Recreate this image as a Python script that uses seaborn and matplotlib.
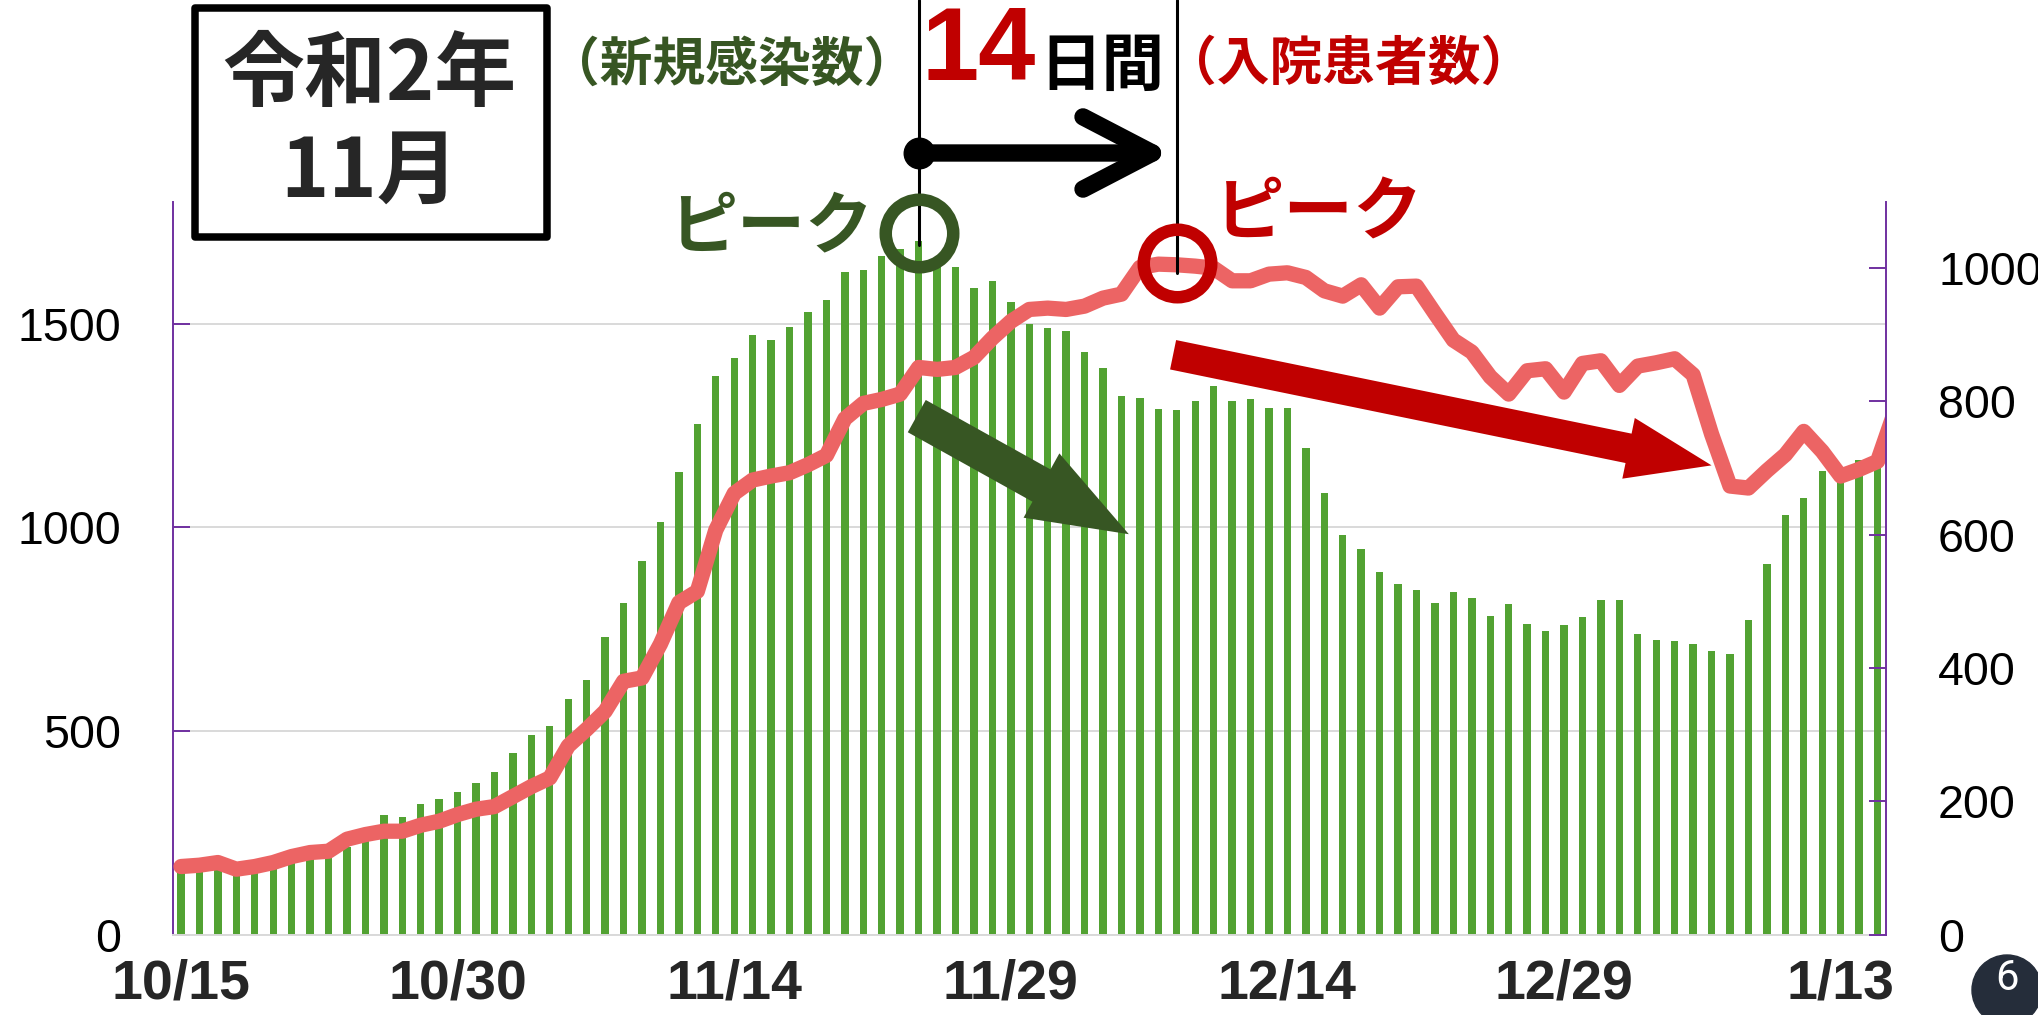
import numpy as np
import pandas as pd
import seaborn as sns
import matplotlib.pyplot as plt
from matplotlib import patches, transforms

# new infections per day (left axis), 10/15 .. 1/15
new_cases = [170, 176, 176, 166, 171, 179, 191, 199, 202, 215,
             260, 293, 289, 320, 333, 351, 372, 400, 446, 491,
             513, 578, 625, 731, 814, 917, 1012, 1136, 1253, 1372,
             1415, 1471, 1460, 1493, 1528, 1558, 1627, 1631, 1667, 1683,
             1702, 1645, 1639, 1587, 1605, 1553, 1499, 1489, 1481, 1431,
             1392, 1323, 1317, 1291, 1288, 1311, 1347, 1311, 1316, 1294,
             1294, 1195, 1084, 981, 946, 889, 860, 845, 815, 842,
             826, 783, 811, 763, 746, 759, 779, 822, 822, 739,
             722, 720, 713, 695, 689, 772, 910, 1030, 1073, 1138,
             1125, 1166, 1187]

# hospitalised patients (right axis), 10/15 .. 1/16
inpatients = [102, 104, 108, 98, 102, 108, 117, 123, 125, 143,
              150, 155, 155, 164, 170, 180, 188, 192, 207, 222,
              235, 283, 308, 335, 380, 385, 436, 498, 515, 607,
              662, 682, 688, 693, 705, 719, 774, 797, 803, 811,
              851, 848, 851, 866, 895, 920, 938, 940, 938, 943,
              955, 961, 1001, 1006, 1005, 1003, 1000, 981, 981, 991,
              993, 986, 966, 958, 975, 940, 972, 973, 932, 892,
              874, 837, 811, 846, 849, 814, 857, 861, 824, 853,
              858, 864, 840, 751, 673, 670, 696, 720, 755, 725,
              688, 698, 710, 790]

tick_days = [0, 15, 30, 45, 60, 75, 90]
tick_labels = ['10/15', '10/30', '11/14', '11/29', '12/14', '12/29', '1/13']

peak_case_day = 40   # 11/24
peak_hosp_day = 54   # 12/8

W, H = 2038, 1015


def fy(py):
    # image pixel row -> figure fraction
    return 1 - py / H


sns.set_style('white')
plt.rcParams['font.family'] = ['Liberation Sans', 'Noto Sans CJK JP', 'DejaVu Sans']
jp = ['Noto Sans CJK JP', 'DejaVu Sans']

fig = plt.figure(figsize=(W / 100, H / 100), dpi=100)
ax = fig.add_axes([173 / W, fy(934.5), (1886 - 173) / W, (934.5 - 201.5) / H])

cases_df = pd.DataFrame({'day': np.arange(len(new_cases)), 'cases': new_cases})
sns.barplot(data=cases_df, x='day', y='cases', color='#52a232', saturation=1,
            width=0.4, linewidth=0, ax=ax)

ax2 = ax.twinx()
hosp_df = pd.DataFrame({'day': np.arange(len(inpatients)), 'hosp': inpatients})
sns.lineplot(data=hosp_df, x='day', y='hosp', color='#ec6464', linewidth=11, ax=ax2)
ax2.lines[0].set_solid_capstyle('round')

ax.set_xlim(-0.434, 92.46)
ax.set_ylim(0, 1800)
ax.set_yticks([0, 500, 1000, 1500])
ax2.set_ylim(0, 1100)
ax2.set_yticks(range(0, 1001, 200))
ax.set_xticks(tick_days)
ax.set_xticklabels(tick_labels, fontsize=40, fontweight='bold')
for a in (ax, ax2):
    a.set_xlabel('')
    a.set_ylabel('')
    a.spines['top'].set_visible(False)
ax.tick_params(axis='x', length=0, pad=17)
for a in (ax, ax2):
    a.tick_params(axis='y', direction='in', length=12, width=1.4, color='#7030a0',
                  labelsize=33.5, pad=37.5, labelcolor='black')

ax.spines['right'].set_visible(False)
ax2.spines['left'].set_visible(False)
ax2.spines['bottom'].set_visible(False)
ax.spines['left'].set_color('#7030a0')
ax.spines['left'].set_linewidth(1.4)
ax2.spines['right'].set_color('#7030a0')
ax2.spines['right'].set_linewidth(1.4)
ax.spines['bottom'].set_color('#d9d9d9')
ax.spines['bottom'].set_linewidth(1.4)

ax.set_axisbelow(True)
ax.yaxis.grid(True, color='#d9d9d9', linewidth=1.4)
ax.xaxis.grid(False)
ax2.grid(False)

# annotations
blend = transforms.blended_transform_factory(ax2.transData, fig.transFigure)

ax2.plot([peak_case_day] * 2, [fy(0), fy(245)], transform=blend, color='black',
         lw=2.2, clip_on=False)
ax2.plot([peak_hosp_day] * 2, [fy(0), fy(273)], transform=blend, color='black',
         lw=2.2, clip_on=False)

ax2.annotate('', xy=(peak_hosp_day - 0.3, fy(153)), xytext=(peak_case_day, fy(153)),
             xycoords=blend, textcoords=blend, annotation_clip=False,
             arrowprops=dict(arrowstyle='->,head_length=0.5,head_width=0.26',
                             mutation_scale=100, lw=12.5, color='black',
                             shrinkA=0, shrinkB=0, capstyle='round', joinstyle='round'))
ax2.plot([peak_case_day], [fy(153)], 'o', ms=22, color='black', transform=blend,
         clip_on=False)

ax2.plot([peak_case_day], [fy(232.7)], 'o', ms=48.6, mfc='none', mec='#375623', mew=9,
         transform=blend, clip_on=False)
ax2.plot([peak_hosp_day], [fy(262.6)], 'o', ms=48.6, mfc='none', mec='#c00000', mew=9,
         transform=blend, clip_on=False)

# falling trend arrows
ax2.annotate('', xy=(51.4, 983), xytext=(39.9, 1273), xycoords=ax.transData,
             textcoords=ax.transData, annotation_clip=False,
             arrowprops=dict(arrowstyle='simple,head_length=0.72,head_width=0.53,tail_width=0.266',
                             mutation_scale=100, color='#375623', lw=0,
                             shrinkA=0, shrinkB=0))
ax2.annotate('', xy=(83.0, 704), xytext=(53.8, 870), xycoords='data',
             annotation_clip=False,
             arrowprops=dict(arrowstyle='simple,head_length=0.61,head_width=0.446,tail_width=0.216',
                             mutation_scale=100, color='#c00000', lw=0,
                             shrinkA=0, shrinkB=0))

fig.text(771 / W, fy(228), 'ピーク', color='#375623', fontsize=49, fontweight='bold',
         family=jp, ha='center', va='center')
fig.text(1319 / W, fy(214), 'ピーク', color='#c00000', fontsize=50, fontweight='bold',
         family=jp, ha='center', va='center')

fig.add_artist(patches.Rectangle((195 / W, fy(237)), 352 / W, 229 / H,
                                 transform=fig.transFigure, facecolor='white',
                                 edgecolor='black', lw=5.4, joinstyle='round'))
fig.text(369.5 / W, fy(76.7), '令和2年', fontsize=59, fontweight='bold', family=jp,
         ha='center', va='center')
fig.text(370 / W, fy(173), '11月', fontsize=59, fontweight='bold', family=jp,
         ha='center', va='center')

fig.text(731.5 / W, fy(65), '（新規感染数）', color='#375623', fontsize=38,
         fontweight='bold', family=jp, ha='center', va='center')
fig.text(979 / W, fy(54), '14', color='#c00000', fontsize=74, fontweight='bold',
         family=['Liberation Sans'], ha='center', va='center')
fig.text(1102 / W, fy(66), '日間', color='black', fontsize=45, fontweight='bold',
         family=jp, ha='center', va='center')
fig.text(1349 / W, fy(64), '（入院患者数）', color='#c00000', fontsize=38,
         fontweight='bold', family=jp, ha='center', va='center')

# page badge
fig.add_artist(patches.Ellipse((2007 / W, fy(990)), 70 / W, 70 / H,
                               transform=fig.transFigure, color='#252d3a'))
fig.text(2007 / W, fy(979), '6', color='white', fontsize=30, family=['Roboto'],
         ha='center', va='center')

fig.savefig('out.png', dpi=100)
